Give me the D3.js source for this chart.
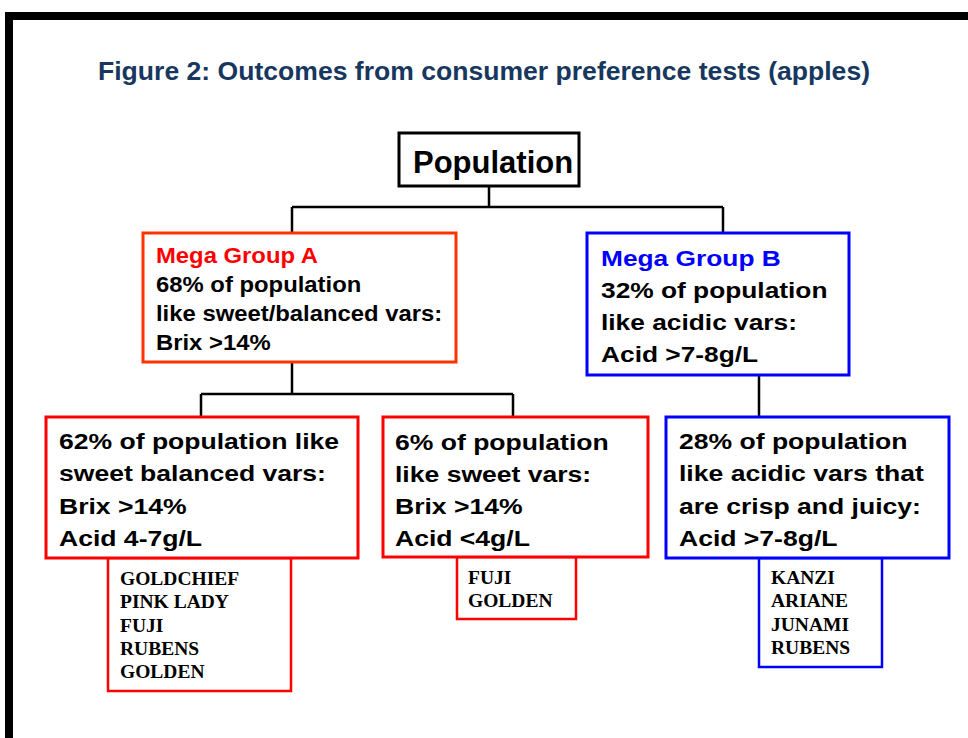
<!DOCTYPE html>
<html>
<head>
<meta charset="utf-8">
<script src="https://cdn.jsdelivr.net/npm/d3@7"></script>
<style>
  html, body { margin: 0; padding: 0; background: #fff; }
  svg { display: block; }
</style>
</head>
<body>
<script>
// ---------- DATA ----------
const titleText = "Figure 2: Outcomes from consumer preference tests (apples)";
const nodeIds = ["pop", "A", "B", "A1", "A2", "B1"];
const nodeParents = [null, "pop", "pop", "A", "A", "B"];
const nodeHeadings = ["Population", "Mega Group A", "Mega Group B", null, null, null];
const nodeLines = [
  [],
  ["68% of population", "like sweet/balanced vars:", "Brix >14%"],
  ["32% of population", "like acidic vars:", "Acid >7-8g/L"],
  ["62% of population like", "sweet balanced vars:", "Brix >14%", "Acid 4-7g/L"],
  ["6% of population", "like sweet vars:", "Brix >14%", "Acid <4g/L"],
  ["28% of population", "like acidic vars that", "are crisp and juicy:", "Acid >7-8g/L"]
];
const varietyNodes = ["A1", "A2", "B1"];
const varietyLists = [
  ["GOLDCHIEF", "PINK LADY", "FUJI", "RUBENS", "GOLDEN"],
  ["FUJI", "GOLDEN"],
  ["KANZI", "ARIANE", "JUNAMI", "RUBENS"]
];

// ---------- LAYOUT / STYLE ----------
const layout = {
  pop: {x0: 399, y0: 133, x1: 579, y1: 186, stroke: "#000", head: "#000", tx: 413, ty: 173, fs: 31, sx: 1.0, lh: 0, headFs: 31},
  A:   {x0: 143, y0: 233, x1: 456, y1: 362, stroke: "#FF3300", head: "#FF0000", tx: 156, ty: 263, fs: 22.5, sx: 1.06, lh: 29},
  B:   {x0: 587, y0: 233, x1: 849, y1: 375, stroke: "#0000FF", head: "#0000FF", tx: 601, ty: 266, fs: 22.5, sx: 1.17, lh: 32},
  A1:  {x0: 46,  y0: 417, x1: 358, y1: 558, stroke: "#FF0000", tx: 59,  ty: 449, fs: 22.5, sx: 1.18, lh: 32.3},
  A2:  {x0: 383, y0: 417, x1: 648, y1: 557, stroke: "#FF0000", tx: 395, ty: 450, fs: 22.5, sx: 1.18, lh: 32},
  B1:  {x0: 666, y0: 417, x1: 949, y1: 558, stroke: "#0000FF", tx: 679, ty: 449, fs: 22.5, sx: 1.18, lh: 32.3}
};
const varLayout = {
  A1: {x0: 108, x1: 291, y1: 691, tx: 120, ty: 585, stroke: "#FF0000"},
  A2: {x0: 457, x1: 576, y1: 619, tx: 468, ty: 584, stroke: "#FF0000"},
  B1: {x0: 759, x1: 882, y1: 667, tx: 771, ty: 584, stroke: "#0000FF"}
};
const connectorMid = {pop: 207, A: 394, B: 417};
const childTopX = {A: 292, B: 723, A1: 201, A2: 513, B1: 759};
const parentBottomX = {pop: 489, A: 292, B: 759};

const W = 968, H = 738;
const sans = "'Liberation Sans', Arial, Helvetica, sans-serif";
const serif = "'Liberation Serif', 'Times New Roman', serif";

const svg = d3.select("body").append("svg").attr("width", W).attr("height", H);

// outer frame
svg.append("rect").attr("x", 9).attr("y", 16).attr("width", 1000).attr("height", 800)
  .attr("fill", "none").attr("stroke", "#000").attr("stroke-width", 8);

// title
svg.append("text").attr("x", 98).attr("y", 80)
  .attr("font-family", sans).attr("font-weight", "bold").attr("font-size", 26.5)
  .attr("fill", "#17375E")
  .attr("textLength", 772).attr("lengthAdjust", "spacingAndGlyphs")
  .text(titleText);

// hierarchy
const table = nodeIds.map((id, i) => ({id, parent: nodeParents[i], heading: nodeHeadings[i], lines: nodeLines[i]}));
const root = d3.stratify().id(d => d.id).parentId(d => d.parent)(table);

// connectors
const linkG = svg.append("g").attr("fill", "none").attr("stroke", "#000").attr("stroke-width", 2.5);
root.descendants().filter(n => n.children).forEach(n => {
  const L = layout[n.id];
  const px = parentBottomX[n.id], my = connectorMid[n.id];
  const xs = n.children.map(c => childTopX[c.id]);
  const path = d3.path();
  path.moveTo(px, L.y1); path.lineTo(px, my);
  if (xs.length > 1) { path.moveTo(d3.min(xs), my); path.lineTo(d3.max(xs), my); }
  n.children.forEach(c => {
    const cx = childTopX[c.id];
    path.moveTo(cx, my); path.lineTo(cx, layout[c.id].y0);
  });
  linkG.append("path").attr("d", path.toString());
});

// variety boxes (drawn before main boxes so the main box border sits on top)
varietyNodes.forEach((id, i) => {
  const V = varLayout[id], parentL = layout[id];
  svg.append("rect").attr("x", V.x0).attr("y", parentL.y1)
    .attr("width", V.x1 - V.x0).attr("height", V.y1 - parentL.y1)
    .attr("fill", "#fff").attr("stroke", V.stroke).attr("stroke-width", 2.5);
  const t = svg.append("text").attr("font-family", serif).attr("font-weight", "bold")
    .attr("font-size", 19.5).attr("fill", "#000");
  t.selectAll("tspan").data(varietyLists[i]).join("tspan")
    .attr("x", V.tx).attr("y", (d, j) => V.ty + j * 23.3).text(d => d);
});

// main boxes
root.descendants().forEach(n => {
  const L = layout[n.id];
  svg.append("rect").attr("x", L.x0).attr("y", L.y0)
    .attr("width", L.x1 - L.x0).attr("height", L.y1 - L.y0)
    .attr("fill", "#fff").attr("stroke", L.stroke).attr("stroke-width", 3);
  const g = svg.append("g").attr("transform", `translate(${L.tx},${L.ty}) scale(${L.sx},1)`);
  const rows = [];
  if (n.data.heading) rows.push({text: n.data.heading, color: L.head});
  n.data.lines.forEach(s => rows.push({text: s, color: "#000"}));
  g.selectAll("text").data(rows).join("text")
    .attr("x", 0).attr("y", (d, j) => j * L.lh)
    .attr("font-family", sans).attr("font-weight", "bold")
    .attr("font-size", L.headFs || L.fs)
    .attr("fill", d => d.color)
    .text(d => d.text);
});
</script>
</body>
</html>
